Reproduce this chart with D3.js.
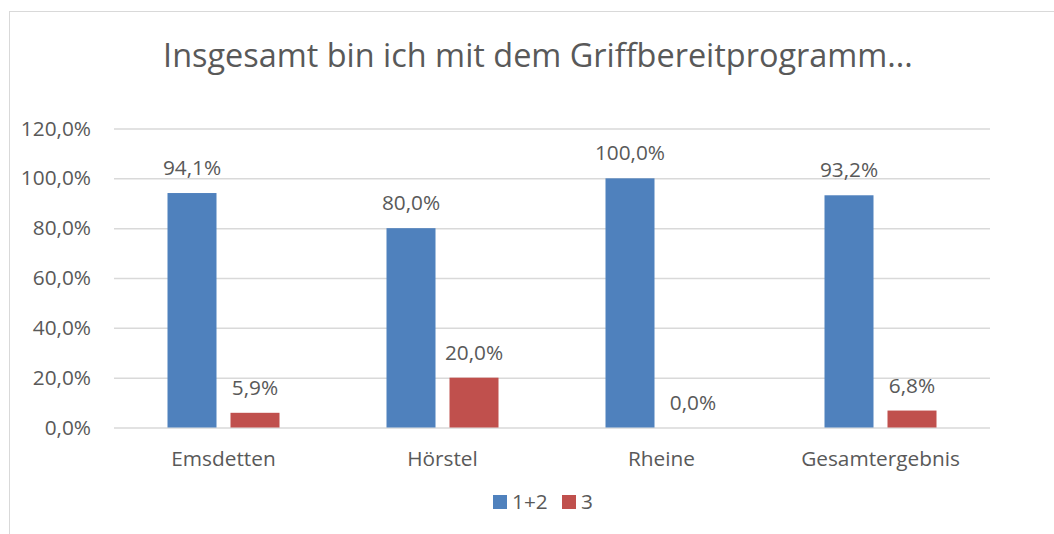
<!DOCTYPE html>
<meta charset="utf-8">
<html>
<head>
  <script src="https://d3js.org/d3.v7.min.js"></script>
  <style>
    body { margin: 0; background: #fff; }
    svg text { font-family: "Open Sans", "Liberation Sans", sans-serif; fill: #595959; }
  </style>
</head>
<body>
<div id="chart"></div>
<script>
  // data
  const categories = ["Emsdetten", "Hörstel", "Rheine", "Gesamtergebnis"];
  const seriesNames = ["1+2", "3"];
  const values12 = [94.1, 80.0, 100.0, 93.2];
  const values3 = [5.9, 20.0, 0.0, 6.8];
  const yTicks = [0, 20, 40, 60, 80, 100, 120];
  const colors = ["#4F81BD", "#C0504D"];
  const title = "Insgesamt bin ich mit dem Griffbereitprogramm...";

  const W = 1054, H = 534;
  const plot = {left: 114, right: 990, top: 128.5, bottom: 427.5};
  const fs = "20.8px";

  const de = d3.formatLocale({decimal: ",", thousands: ".", grouping: [3], currency: ["", "€"]});
  const pct = v => de.format(".1f")(v) + "%";

  const svg = d3.select("#chart").append("svg")
    .attr("width", W)
    .attr("height", H);

  // chart border (runs off the right and bottom edge)
  svg.append("rect")
    .attr("x", 9.5).attr("y", 11.5)
    .attr("width", 1200).attr("height", 800)
    .attr("fill", "none")
    .attr("stroke", "#D9D9D9");

  // title, fitted to its width in the reference
  const t = svg.append("text")
    .attr("x", 538).attr("y", 67)
    .attr("text-anchor", "middle")
    .style("font-size", "30px")
    .text(title);
  const tw = t.node().getComputedTextLength();
  t.style("font-size", (30 * 750 / tw) + "px");

  // scales
  const y = d3.scaleLinear().domain([0, 120]).range([plot.bottom, plot.top]);
  const x = d3.scaleBand().domain(categories).range([plot.left, plot.right]);
  const xs = d3.scaleBand().domain(seriesNames)
    .range([53.5, x.bandwidth() - 53.5])
    .paddingInner(14 / 63);

  // gridlines + y labels
  const yAxis = svg.append("g")
    .attr("transform", `translate(${plot.left},0)`)
    .call(d3.axisLeft(y).tickValues(yTicks).tickFormat(pct)
      .tickSize(-(plot.right - plot.left)).tickPadding(23));
  yAxis.select(".domain").remove();
  yAxis.selectAll(".tick line").attr("stroke", "#D9D9D9").attr("stroke-width", 1.5);
  yAxis.selectAll(".tick text")
    .attr("fill", "#595959")
    .style("font-size", fs)
    .style("font-family", "'Open Sans', sans-serif");

  // bars
  const rows = categories.map((c, i) => ({cat: c, vals: [values12[i], values3[i]]}));
  const groups = svg.append("g").selectAll("g")
    .data(rows)
    .join("g")
      .attr("transform", d => `translate(${x(d.cat)},0)`);

  groups.selectAll("rect")
    .data(d => d.vals.map((v, j) => ({s: seriesNames[j], v: v, j: j})))
    .join("rect")
      .attr("x", d => xs(d.s))
      .attr("y", d => y(d.v))
      .attr("width", xs.bandwidth())
      .attr("height", d => y(0) - y(d.v))
      .attr("fill", d => colors[d.j]);

  // value labels
  groups.selectAll("text.val")
    .data(d => d.vals.map((v, j) => ({s: seriesNames[j], v: v})))
    .join("text")
      .attr("class", "val")
      .attr("x", d => xs(d.s) + xs.bandwidth() / 2)
      .attr("y", d => y(d.v) - 18)
      .attr("text-anchor", "middle")
      .style("font-size", fs)
      .text(d => pct(d.v));

  // category labels
  svg.append("g").selectAll("text")
    .data(categories)
    .join("text")
      .attr("x", d => x(d) + x.bandwidth() / 2)
      .attr("y", 466)
      .attr("text-anchor", "middle")
      .style("font-size", fs)
      .text(d => d);

  // legend
  const legendX = [493, 562];
  const legend = svg.append("g").selectAll("g")
    .data(seriesNames)
    .join("g")
      .attr("transform", (d, i) => `translate(${legendX[i]},495)`);
  legend.append("rect")
    .attr("width", 14).attr("height", 14)
    .attr("fill", (d, i) => colors[i]);
  legend.append("text")
    .attr("x", 19).attr("y", 14)
    .style("font-size", fs)
    .text(d => d);
</script>
</body>
</html>
